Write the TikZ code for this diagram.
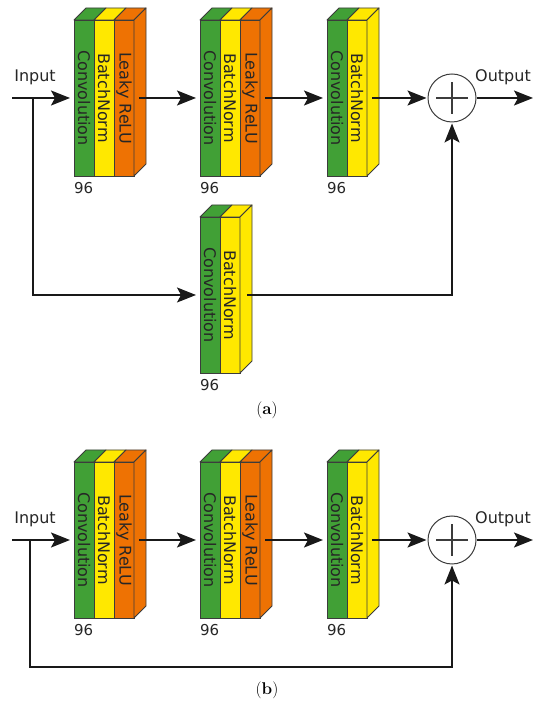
\documentclass[tikz,border=0pt]{standalone}
\usepackage{fontspec}
\setsansfont{DejaVu Sans}
\usepackage{xcolor}
\definecolor{LayerGreen}{HTML}{41A036}
\definecolor{LayerYellow}{HTML}{FFE800}
\definecolor{LayerOrange}{HTML}{EE7203}
\definecolor{EdgeGray}{HTML}{3C3C3C}
\usepackage{graphicx}
\usepackage{tikz}
\usetikzlibrary{arrows.meta,positioning,calc}

\begin{document}
\begin{tikzpicture}[x=1pt,y=1pt,>={Stealth[length=19pt,width=15pt,inset=4pt]},
layer/.style={draw=EdgeGray,line width=0.9pt,minimum width=20pt,minimum height=156pt,inner sep=0pt,outer sep=0pt,text=black!85,font=\fontsize{16}{16}\selectfont\sffamily},
conv/.style={layer,fill=LayerGreen},
bn/.style={layer,fill=LayerYellow},
relu/.style={layer,fill=LayerOrange},
num/.style={font=\fontsize{15}{15}\selectfont\sffamily,inner sep=0pt,text=black!85},
lbl/.style={font=\fontsize{16}{16}\selectfont\sffamily,inner sep=0pt,text=black!85},
flow/.style={->,line width=1.6pt,black!90,shorten >=4pt},
skip/.style={->,line width=1.3pt,black!90},
sum/.style={circle,draw=EdgeGray,line width=1pt,fill=white,minimum size=48pt,inner sep=0pt},
captxt/.style={font=\fontsize{17}{17}\selectfont,inner sep=0pt}]
\useasboundingbox (0,0) rectangle (533,703);

% (a) main path
\node[conv] (a1c) at (84,605) {\rotatebox{-90}{Convolution}};
\node[bn,right=0pt of a1c] (a1b) {\rotatebox{-90}{BatchNorm}};
\node[relu,right=0pt of a1b] (a1r) {\rotatebox{-90}{Leaky ReLU}};
\node[conv] (a2c) at (210,605) {\rotatebox{-90}{Convolution}};
\node[bn,right=0pt of a2c] (a2b) {\rotatebox{-90}{BatchNorm}};
\node[relu,right=0pt of a2b] (a2r) {\rotatebox{-90}{Leaky ReLU}};
\node[conv] (a3c) at (337,605) {\rotatebox{-90}{Convolution}};
\node[bn,right=0pt of a3c] (a3b) {\rotatebox{-90}{BatchNorm}};
% (a) shortcut
\node[conv] (a4c) at (210,408) {\rotatebox{-90}{Convolution}};
\node[bn,right=0pt of a4c] (a4b) {\rotatebox{-90}{BatchNorm}};
\node[sum] (asum) at (452,605) {};

% (b)
\node[conv] (b1c) at (84,163) {\rotatebox{-90}{Convolution}};
\node[bn,right=0pt of b1c] (b1b) {\rotatebox{-90}{BatchNorm}};
\node[relu,right=0pt of b1b] (b1r) {\rotatebox{-90}{Leaky ReLU}};
\node[conv] (b2c) at (210,163) {\rotatebox{-90}{Convolution}};
\node[bn,right=0pt of b2c] (b2b) {\rotatebox{-90}{BatchNorm}};
\node[relu,right=0pt of b2b] (b2r) {\rotatebox{-90}{Leaky ReLU}};
\node[conv] (b3c) at (337,163) {\rotatebox{-90}{Convolution}};
\node[bn,right=0pt of b3c] (b3b) {\rotatebox{-90}{BatchNorm}};
\node[sum] (bsum) at (452,163) {};

% depth faces
\foreach \n/\c in {a1c/LayerGreen,a1b/LayerYellow,a1r/LayerOrange,a2c/LayerGreen,a2b/LayerYellow,a2r/LayerOrange,
  a3c/LayerGreen,a3b/LayerYellow,a4c/LayerGreen,a4b/LayerYellow,
  b1c/LayerGreen,b1b/LayerYellow,b1r/LayerOrange,b2c/LayerGreen,b2b/LayerYellow,b2r/LayerOrange,
  b3c/LayerGreen,b3b/LayerYellow}
  \filldraw[fill=\c,draw=EdgeGray,line width=0.9pt,line join=round] (\n.north west) -- ++(12,12) -- ($(\n.north east)+(12,12)$) -- (\n.north east) -- cycle;
\foreach \n/\c in {a1r/LayerOrange,a2r/LayerOrange,a3b/LayerYellow,a4b/LayerYellow,b1r/LayerOrange,b2r/LayerOrange,b3b/LayerYellow}
  \filldraw[fill=\c,draw=EdgeGray,line width=0.9pt,line join=round] (\n.north east) -- ++(12,12) -- ($(\n.south east)+(12,12)$) -- (\n.south east) -- cycle;

% sizes
\foreach \n in {a1c,a2c,a3c,a4c,b1c,b2c,b3c}
  \node[num,below right=6pt and 0pt of \n.south west] (\n-n) {96};

% plus signs
\foreach \s in {asum,bsum}{
  \draw[EdgeGray,line width=1.2pt] ($(\s)+(-16,0)$) -- ($(\s)+(16,0)$);
  \draw[EdgeGray,line width=1.2pt] ($(\s)+(0,-16)$) -- ($(\s)+(0,16)$);
}

% labels
\node[lbl] (ainl) at (35,626) {Input};
\node[lbl] (aoutl) at (503,626) {Output};
\node[lbl] (binl) at (35,184) {Input};
\node[lbl] (boutl) at (503,184) {Output};
\node[captxt] (capa) at (267,293) {(\textbf{a})};
\node[captxt] (capb) at (267,13) {(\textbf{b})};

% (a) connectors
\coordinate (ain) at (12,605);
\coordinate (asplit) at (33,605);
\coordinate (aout) at (533,605);
\draw[flow] (ain) -- (a1c);
\draw[flow,shorten <=5pt] (a1r) -- (a2c);
\draw[flow,shorten <=5pt] (a2r) -- (a3c);
\draw[flow,shorten <=5pt,shorten >=1pt] (a3b) -- (asum);
\draw[flow,shorten >=0pt] (asum) -- (aout);
\draw[skip,shorten >=4pt] (asplit) |- (a4c);
\draw[skip,shorten <=7pt,shorten >=1pt] (a4b) -| (asum);

% (b) connectors
\coordinate (bin) at (12,163);
\coordinate (bsplit) at (30,163);
\coordinate (bloop) at (30,36);
\coordinate (bout) at (533,163);
\draw[flow] (bin) -- (b1c);
\draw[flow,shorten <=5pt] (b1r) -- (b2c);
\draw[flow,shorten <=5pt] (b2r) -- (b3c);
\draw[flow,shorten <=5pt,shorten >=1pt] (b3b) -- (bsum);
\draw[flow,shorten >=0pt] (bsum) -- (bout);
\draw[skip,shorten >=1pt] (bsplit) -- (bloop) -| (bsum);
\end{tikzpicture}
\end{document}
